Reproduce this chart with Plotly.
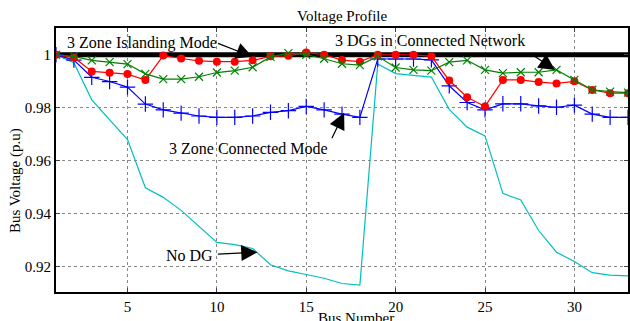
import plotly.graph_objects as go

bus = list(range(1, 34))

no_dg = [1.0, 0.997, 0.983, 0.9755, 0.968, 0.9498, 0.9462, 0.9413, 0.9351, 0.9292,
         0.9284, 0.9269, 0.9208, 0.9185, 0.9171, 0.9157, 0.9137, 0.9131, 0.9965, 0.9929,
         0.9922, 0.9916, 0.9794, 0.9727, 0.9694, 0.9477, 0.9452, 0.9337, 0.9255, 0.9220,
         0.9178, 0.9169, 0.9166]

zone_connected = [1.0, 0.998, 0.9915, 0.9899, 0.9878, 0.9814, 0.9792, 0.9780, 0.9769, 0.9764,
                  0.9764, 0.9769, 0.9783, 0.9789, 0.9805, 0.9792, 0.9776, 0.9764, 0.9984, 0.9984,
                  0.9984, 0.9981, 0.9883, 0.9820, 0.9792, 0.9815, 0.9815, 0.9807, 0.9802, 0.9810,
                  0.9776, 0.9764, 0.9764]

red_series = [1.0, 0.999, 0.9937, 0.9932, 0.9927, 0.9905, 0.9997, 0.9986, 0.9977, 0.9974,
              0.9974, 0.9979, 0.9994, 0.9996, 1.0009, 1.0, 0.998, 0.9974, 1.0, 1.0,
              1.0, 0.9994, 0.9903, 0.984, 0.9805, 0.9905, 0.9905, 0.9897, 0.9892, 0.990,
              0.9867, 0.9855, 0.9855]

dgs_connected = [1.0, 0.9994, 0.9979, 0.9972, 0.9965, 0.9928, 0.9908, 0.9908, 0.9917, 0.9933,
                 0.9940, 0.9953, 0.9992, 1.0006, 1.0, 0.9985, 0.9966, 0.9961, 0.9994, 0.9952,
                 0.9943, 0.9940, 0.9972, 0.9979, 0.9943, 0.9931, 0.9934, 0.9934, 0.9943, 0.9905,
                 0.9868, 0.9861, 0.9857]

islanding = [1.0] * 33

x_ticks = [5, 10, 15, 20, 25, 30]
y_ticks = [0.92, 0.94, 0.96, 0.98, 1.0]
y_tick_labels = ["0.92", "0.94", "0.96", "0.98", "1"]

FONT = "Liberation Serif, Times New Roman, Times, serif"

fig = go.Figure()
fig.add_trace(go.Scatter(x=bus, y=islanding, mode="lines",
                         line=dict(color="black", width=5), showlegend=False))
fig.add_trace(go.Scatter(x=bus, y=no_dg, mode="lines",
                         line=dict(color="#00bfbf", width=1.2), showlegend=False))
fig.add_trace(go.Scatter(x=bus, y=zone_connected, mode="lines+markers",
                         line=dict(color="#0000ff", width=1.2),
                         marker=dict(symbol="cross-thin", size=11,
                                     line=dict(color="#0000ff", width=1.2)),
                         showlegend=False))
fig.add_trace(go.Scatter(x=bus, y=red_series, mode="lines+markers",
                         line=dict(color="#ff0000", width=1.2),
                         marker=dict(symbol="circle", size=8, color="#ff0000"),
                         showlegend=False))
fig.add_trace(go.Scatter(x=bus, y=dgs_connected, mode="lines+markers",
                         line=dict(color="#008000", width=1.2),
                         marker=dict(symbol="x-thin", size=8,
                                     line=dict(color="#008000", width=1.2)),
                         showlegend=False))

txt = dict(family=FONT, size=16, color="black")
arrow = dict(showarrow=True, arrowhead=2, arrowsize=2.7, arrowwidth=1.2,
             arrowcolor="black", text="", xref="x", yref="y")

annotations = [
    dict(text="3 Zone Islanding Mode", x=5.8, y=1.0045, xref="x", yref="y",
         showarrow=False, font=txt),
    dict(x=11.99, y=0.99924, ax=-36, ay=-14, **arrow),
    dict(text="3 DGs in Connected Network", x=21.9, y=1.0052, xref="x", yref="y",
         showarrow=False, font=txt),
    dict(x=28.92, y=0.9943, ax=-27, ay=-18, **arrow),
    dict(text="3 Zone Connected Mode", x=11.76, y=0.9645, xref="x", yref="y",
         showarrow=False, font=txt),
    dict(x=17.12, y=0.9781, ax=-13, ay=27, **arrow),
    dict(text="No DG", x=8.45, y=0.9244, xref="x", yref="y",
         showarrow=False, font=txt),
    dict(x=12.27, y=0.9255, ax=-41, ay=2, **arrow),
    dict(text="Voltage Profile", x=0.5, y=1.0, xref="paper", yref="paper",
         xanchor="center", yanchor="bottom", yshift=2, showarrow=False,
         font=dict(family=FONT, size=15, color="black")),
    dict(text="Bus Number", x=0.525, y=0, xref="paper", yref="paper",
         xanchor="center", yanchor="top", yshift=-16, showarrow=False,
         font=dict(family=FONT, size=15, color="black")),
    dict(text="Bus Voltage (p.u)", x=0, y=0.42, xref="paper", yref="paper",
         xanchor="center", yanchor="middle", xshift=-41, textangle=-90,
         showarrow=False, font=dict(family=FONT, size=15, color="black")),
]

fig.update_layout(
    width=630, height=321,
    margin=dict(l=56, r=0, t=28, b=29),
    paper_bgcolor="white", plot_bgcolor="white",
    font=dict(family=FONT, size=15, color="black"),
    annotations=annotations,
    showlegend=False,
)
fig.update_xaxes(range=[1, 33], tickvals=x_ticks, ticks="inside", ticklen=4,
                 showline=True, linecolor="black", linewidth=2, mirror="ticks",
                 showgrid=True, gridcolor="#888888", griddash="dot", gridwidth=1,
                 zeroline=False, tickfont=dict(family=FONT, size=15))
fig.update_yaxes(range=[0.9105, 1.0101], tickvals=y_ticks, ticktext=y_tick_labels,
                 ticks="inside", ticklen=4,
                 showline=True, linecolor="black", linewidth=2, mirror="ticks",
                 showgrid=True, gridcolor="#888888", griddash="dot", gridwidth=1,
                 zeroline=False, tickfont=dict(family=FONT, size=15))

fig.write_html("out.html", config={"displayModeBar": False},
               post_script="document.body.style.margin='0';document.body.style.overflow='hidden';")
